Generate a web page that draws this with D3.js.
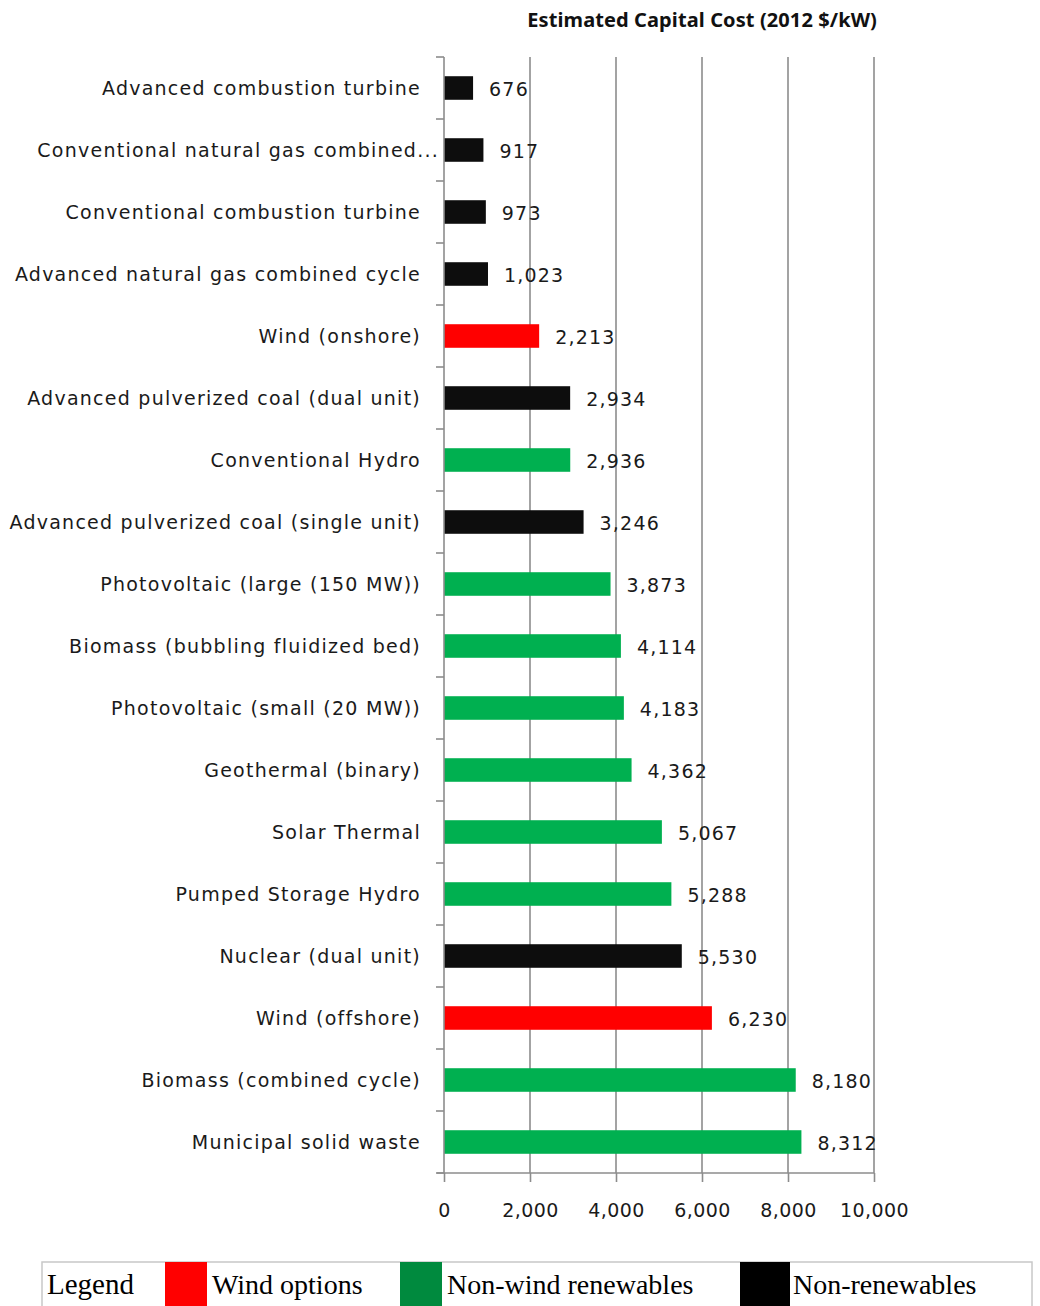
<!DOCTYPE html>
<html>
<head>
<meta charset="utf-8">
<script src="https://cdn.jsdelivr.net/npm/d3@7"></script>
<style>
  body { margin: 0; background: #fff; }
  svg { display: block; }
</style>
</head>
<body>
<div id="chart"></div>
<script>
var categories = [
  "Advanced combustion turbine",
  "Conventional natural gas combined...",
  "Conventional combustion turbine",
  "Advanced natural gas combined cycle",
  "Wind (onshore)",
  "Advanced pulverized coal (dual unit)",
  "Conventional Hydro",
  "Advanced pulverized coal (single unit)",
  "Photovoltaic (large (150 MW))",
  "Biomass (bubbling fluidized bed)",
  "Photovoltaic (small (20 MW))",
  "Geothermal (binary)",
  "Solar Thermal",
  "Pumped Storage Hydro",
  "Nuclear (dual unit)",
  "Wind (offshore)",
  "Biomass (combined cycle)",
  "Municipal solid waste"
];
var costs = [676, 917, 973, 1023, 2213, 2934, 2936, 3246, 3873, 4114, 4183, 4362, 5067, 5288, 5530, 6230, 8180, 8312];
var groups = ["non", "non", "non", "non", "wind", "non", "renew", "non", "renew", "renew", "renew", "renew", "renew", "renew", "non", "wind", "renew", "renew"];
var xTicks = [0, 2000, 4000, 6000, 8000, 10000];
var legendItems = [
  {key: "wind", label: "Wind options"},
  {key: "renew", label: "Non-wind renewables"},
  {key: "non", label: "Non-renewables"}
];

var width = 1040, height = 1306;
var barColor = {wind: "#ff0000", renew: "#00b050", non: "#0d0d0d"};
var legendColor = {wind: "#ff0000", renew: "#008a3e", non: "#000000"};

var svg = d3.select("#chart").append("svg")
    .attr("width", width)
    .attr("height", height);

var x = d3.scaleLinear().domain([0, 10000]).range([444, 874]);
var y = d3.scaleBand().domain(categories).range([57, 1173]).paddingInner(0.62).paddingOuter(0.31);

// title
svg.append("text")
    .attr("x", 877)
    .attr("y", 27)
    .attr("text-anchor", "end")
    .style("font-family", "'Noto Sans', sans-serif")
    .style("font-weight", "bold")
    .style("font-size", "20px")
    .style("letter-spacing", "0.1px")
    .attr("fill", "#111")
    .text("Estimated Capital Cost (2012 $/kW)");

// gridlines
svg.append("g")
    .selectAll("line")
    .data(xTicks.slice(1))
    .enter().append("line")
    .attr("x1", function(d) { return x(d); })
    .attr("x2", function(d) { return x(d); })
    .attr("y1", 57)
    .attr("y2", 1173)
    .attr("stroke", "#8c8c8c")
    .attr("stroke-width", 1.6);

// bars
svg.append("g")
    .selectAll("rect")
    .data(categories)
    .enter().append("rect")
    .attr("x", x(0))
    .attr("y", function(d) { return y(d); })
    .attr("width", function(d, i) { return x(costs[i]) - x(0); })
    .attr("height", y.bandwidth())
    .attr("fill", function(d, i) { return barColor[groups[i]]; });

// value labels
svg.append("g")
    .selectAll("text")
    .data(categories)
    .enter().append("text")
    .attr("x", function(d, i) { return x(costs[i]) + 16; })
    .attr("y", function(d) { return y(d) + y.bandwidth() / 2 + 8; })
    .style("font-family", "'DejaVu Sans', sans-serif")
    .style("font-size", "19px")
    .style("letter-spacing", "1.2px")
    .attr("fill", "#1a1a1a")
    .text(function(d, i) { return d3.format(",")(costs[i]); });

// category axis
var yAxis = svg.append("g")
    .attr("transform", "translate(" + x(0) + ",0)");
yAxis.append("line")
    .attr("y1", 57).attr("y2", 1173)
    .attr("stroke", "#8c8c8c").attr("stroke-width", 1.6);
yAxis.selectAll(".tick")
    .data(d3.range(categories.length + 1))
    .enter().append("line")
    .attr("x1", -8).attr("x2", 0)
    .attr("y1", function(d) { return 57 + d * y.step(); })
    .attr("y2", function(d) { return 57 + d * y.step(); })
    .attr("stroke", "#8c8c8c").attr("stroke-width", 1.6);
yAxis.selectAll("text")
    .data(categories)
    .enter().append("text")
    .attr("x", function(d) { return d.slice(-3) === "..." ? -5 : -23; })
    .attr("y", function(d) { return y(d) + y.bandwidth() / 2 + 7; })
    .attr("text-anchor", "end")
    .style("font-family", "'DejaVu Sans', sans-serif")
    .style("font-size", "19px")
    .style("letter-spacing", "1.25px")
    .attr("fill", "#1a1a1a")
    .text(function(d) { return d; });

// value axis
var xAxis = svg.append("g")
    .attr("transform", "translate(0,1173)")
    .call(d3.axisBottom(x).tickValues(xTicks).tickFormat(d3.format(",")).tickSize(9).tickSizeOuter(0));
xAxis.select(".domain")
    .attr("d", "M437,0H" + x(10000))
    .attr("stroke", "#8c8c8c").attr("stroke-width", 1.6);
xAxis.selectAll(".tick line").attr("stroke", "#8c8c8c").attr("stroke-width", 1.6);
xAxis.selectAll(".tick text")
    .attr("y", 37)
    .attr("dy", "0.35em")
    .style("font-family", "'DejaVu Sans', sans-serif")
    .style("font-size", "19px")
    .style("letter-spacing", "0.4px")
    .attr("fill", "#1a1a1a");

// legend
var lg = svg.append("g").attr("transform", "translate(42,1262)");
lg.append("rect")
    .attr("width", 990).attr("height", 50)
    .attr("fill", "none").attr("stroke", "#c8c8c8").attr("stroke-width", 1.5);
lg.append("text")
    .attr("x", 5).attr("y", 32)
    .style("font-family", "'Liberation Serif', serif")
    .style("font-size", "29px")
    .attr("fill", "#000")
    .text("Legend");
var swatchX = [123, 358, 698];
var item = lg.selectAll(".item")
    .data(legendItems)
    .enter().append("g")
    .attr("transform", function(d, i) { return "translate(" + swatchX[i] + ",0)"; });
item.append("rect")
    .attr("width", function(d, i) { return i === 2 ? 50 : 42; })
    .attr("height", 50)
    .attr("fill", function(d) { return legendColor[d.key]; });
item.append("text")
    .attr("x", function(d, i) { return i === 2 ? 53 : 47; })
    .attr("y", 32)
    .style("font-family", "'Liberation Serif', serif")
    .style("font-size", "28px")
    .attr("fill", "#000")
    .text(function(d) { return d.label; });
</script>
</body>
</html>
